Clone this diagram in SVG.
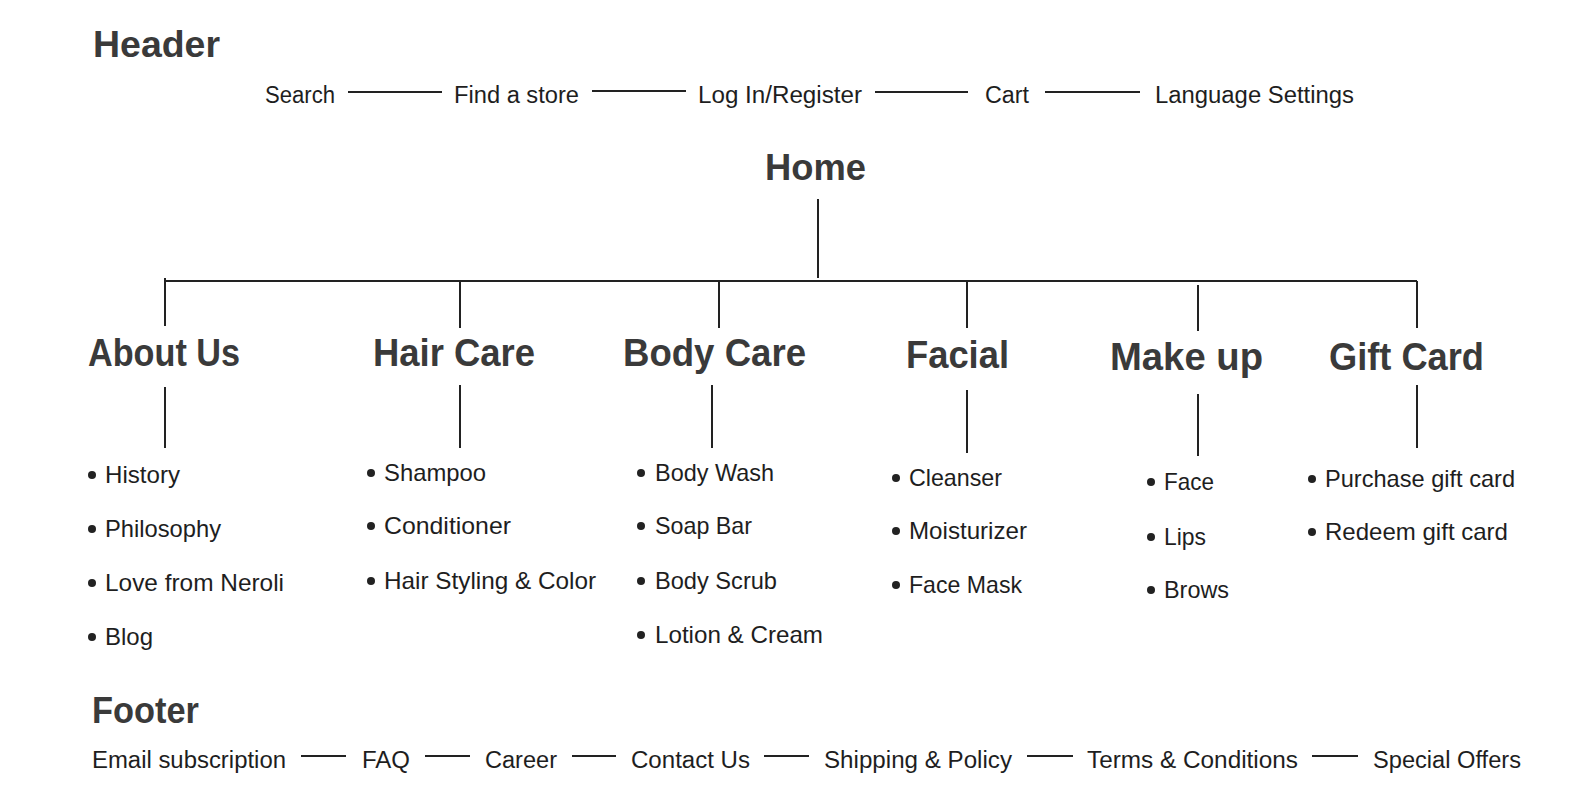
<svg xmlns="http://www.w3.org/2000/svg" width="1584" height="807" viewBox="0 0 1584 807">
<style>
.bg{fill:#ffffff}
.ttl{font-family:"Liberation Sans",Arial,sans-serif;font-weight:bold;font-size:36px;fill:#3a3a3a}
.sec{font-family:"Liberation Sans",Arial,sans-serif;font-weight:bold;font-size:38px;fill:#3a3a3a}
.txt{font-family:"Liberation Sans",Arial,sans-serif;font-size:23px;fill:#1e1e1e}
.item{font-family:"Liberation Sans",Arial,sans-serif;font-size:24px;fill:#1e1e1e}
.ln{stroke:#222;stroke-width:2;fill:none}
.dot{fill:#222}
</style>
<rect class="bg" x="0" y="0" width="1584" height="807"/>

<g id="connectors">
  <line class="ln" x1="348" y1="92" x2="442" y2="92"/>
  <line class="ln" x1="592" y1="91" x2="686" y2="91"/>
  <line class="ln" x1="875" y1="92" x2="968" y2="92"/>
  <line class="ln" x1="1045" y1="92" x2="1140" y2="92"/>
  <line class="ln" x1="818" y1="199" x2="818" y2="278"/>
  <line class="ln" x1="165" y1="281" x2="1417" y2="281"/>
  <line class="ln" x1="165" y1="278" x2="165" y2="326"/>
  <line class="ln" x1="460" y1="281" x2="460" y2="328"/>
  <line class="ln" x1="719" y1="281" x2="719" y2="328"/>
  <line class="ln" x1="967" y1="281" x2="967" y2="328"/>
  <line class="ln" x1="1198" y1="285" x2="1198" y2="331"/>
  <line class="ln" x1="1417" y1="281" x2="1417" y2="328"/>
  <line class="ln" x1="165" y1="387" x2="165" y2="448"/>
  <line class="ln" x1="460" y1="385" x2="460" y2="448"/>
  <line class="ln" x1="712" y1="385" x2="712" y2="448"/>
  <line class="ln" x1="967" y1="390" x2="967" y2="453"/>
  <line class="ln" x1="1198" y1="394" x2="1198" y2="456"/>
  <line class="ln" x1="1417" y1="385" x2="1417" y2="448"/>
  <line class="ln" x1="301" y1="756" x2="346" y2="756"/>
  <line class="ln" x1="425" y1="756" x2="470" y2="756"/>
  <line class="ln" x1="572" y1="756" x2="616" y2="756"/>
  <line class="ln" x1="764" y1="756" x2="809" y2="756"/>
  <line class="ln" x1="1027" y1="756" x2="1073" y2="756"/>
  <line class="ln" x1="1312" y1="756" x2="1358" y2="756"/>
</g>

<g id="header">
  <text class="ttl" x="93" y="57" textLength="127" lengthAdjust="spacingAndGlyphs">Header</text>
</g>
<g id="header-search"><text class="txt" x="265" y="103" textLength="70" lengthAdjust="spacingAndGlyphs">Search</text></g>
<g id="header-store"><text class="txt" x="454" y="103" textLength="125" lengthAdjust="spacingAndGlyphs">Find a store</text></g>
<g id="header-login"><text class="txt" x="698" y="103" textLength="164" lengthAdjust="spacingAndGlyphs">Log In/Register</text></g>
<g id="header-cart"><text class="txt" x="985" y="103" textLength="44" lengthAdjust="spacingAndGlyphs">Cart</text></g>
<g id="header-lang"><text class="txt" x="1155" y="103" textLength="199" lengthAdjust="spacingAndGlyphs">Language Settings</text></g>

<g id="home">
  <text class="ttl" x="765" y="180" textLength="101" lengthAdjust="spacingAndGlyphs">Home</text>
</g>

<g id="about-us">
  <text class="sec" x="88" y="366" textLength="152" lengthAdjust="spacingAndGlyphs">About Us</text>
  <circle class="dot" cx="92" cy="475" r="4"/><text class="item" x="105" y="483" textLength="75" lengthAdjust="spacingAndGlyphs">History</text>
  <circle class="dot" cx="92" cy="529" r="4"/><text class="item" x="105" y="537" textLength="116" lengthAdjust="spacingAndGlyphs">Philosophy</text>
  <circle class="dot" cx="92" cy="583" r="4"/><text class="item" x="105" y="591" textLength="179" lengthAdjust="spacingAndGlyphs">Love from Neroli</text>
  <circle class="dot" cx="92" cy="637" r="4"/><text class="item" x="105" y="645" textLength="48" lengthAdjust="spacingAndGlyphs">Blog</text>
</g>

<g id="hair-care">
  <text class="sec" x="373" y="366" textLength="162" lengthAdjust="spacingAndGlyphs">Hair Care</text>
  <circle class="dot" cx="371" cy="473" r="4"/><text class="item" x="384" y="481" textLength="102" lengthAdjust="spacingAndGlyphs">Shampoo</text>
  <circle class="dot" cx="371" cy="526" r="4"/><text class="item" x="384" y="534" textLength="127" lengthAdjust="spacingAndGlyphs">Conditioner</text>
  <circle class="dot" cx="371" cy="581" r="4"/><text class="item" x="384" y="589" textLength="212" lengthAdjust="spacingAndGlyphs">Hair Styling &amp; Color</text>
</g>

<g id="body-care">
  <text class="sec" x="623" y="366" textLength="183" lengthAdjust="spacingAndGlyphs">Body Care</text>
  <circle class="dot" cx="641" cy="473" r="4"/><text class="item" x="655" y="481" textLength="119" lengthAdjust="spacingAndGlyphs">Body Wash</text>
  <circle class="dot" cx="641" cy="526" r="4"/><text class="item" x="655" y="534" textLength="97" lengthAdjust="spacingAndGlyphs">Soap Bar</text>
  <circle class="dot" cx="641" cy="581" r="4"/><text class="item" x="655" y="589" textLength="122" lengthAdjust="spacingAndGlyphs">Body Scrub</text>
  <circle class="dot" cx="641" cy="635" r="4"/><text class="item" x="655" y="643" textLength="168" lengthAdjust="spacingAndGlyphs">Lotion &amp; Cream</text>
</g>

<g id="facial">
  <text class="sec" x="906" y="368" textLength="103" lengthAdjust="spacingAndGlyphs">Facial</text>
  <circle class="dot" cx="896" cy="478" r="4"/><text class="item" x="909" y="486" textLength="93" lengthAdjust="spacingAndGlyphs">Cleanser</text>
  <circle class="dot" cx="896" cy="531" r="4"/><text class="item" x="909" y="539" textLength="118" lengthAdjust="spacingAndGlyphs">Moisturizer</text>
  <circle class="dot" cx="896" cy="585" r="4"/><text class="item" x="909" y="593" textLength="113" lengthAdjust="spacingAndGlyphs">Face Mask</text>
</g>

<g id="make-up">
  <text class="sec" x="1110" y="370" textLength="153" lengthAdjust="spacingAndGlyphs">Make up</text>
  <circle class="dot" cx="1151" cy="482" r="4"/><text class="item" x="1164" y="490" textLength="50" lengthAdjust="spacingAndGlyphs">Face</text>
  <circle class="dot" cx="1151" cy="537" r="4"/><text class="item" x="1164" y="545" textLength="42" lengthAdjust="spacingAndGlyphs">Lips</text>
  <circle class="dot" cx="1151" cy="590" r="4"/><text class="item" x="1164" y="598" textLength="65" lengthAdjust="spacingAndGlyphs">Brows</text>
</g>

<g id="gift-card">
  <text class="sec" x="1329" y="370" textLength="155" lengthAdjust="spacingAndGlyphs">Gift Card</text>
  <circle class="dot" cx="1312" cy="479" r="4"/><text class="item" x="1325" y="487" textLength="190" lengthAdjust="spacingAndGlyphs">Purchase gift card</text>
  <circle class="dot" cx="1312" cy="532" r="4"/><text class="item" x="1325" y="540" textLength="183" lengthAdjust="spacingAndGlyphs">Redeem gift card</text>
</g>

<g id="footer">
  <text class="ttl" x="92" y="723" textLength="107" lengthAdjust="spacingAndGlyphs">Footer</text>
</g>
<g id="footer-email"><text class="txt" x="92" y="768" textLength="194" lengthAdjust="spacingAndGlyphs">Email subscription</text></g>
<g id="footer-faq"><text class="txt" x="362" y="768" textLength="48" lengthAdjust="spacingAndGlyphs">FAQ</text></g>
<g id="footer-career"><text class="txt" x="485" y="768" textLength="72" lengthAdjust="spacingAndGlyphs">Career</text></g>
<g id="footer-contact"><text class="txt" x="631" y="768" textLength="119" lengthAdjust="spacingAndGlyphs">Contact Us</text></g>
<g id="footer-shipping"><text class="txt" x="824" y="768" textLength="188" lengthAdjust="spacingAndGlyphs">Shipping &amp; Policy</text></g>
<g id="footer-terms"><text class="txt" x="1087" y="768" textLength="211" lengthAdjust="spacingAndGlyphs">Terms &amp; Conditions</text></g>
<g id="footer-offers"><text class="txt" x="1373" y="768" textLength="148" lengthAdjust="spacingAndGlyphs">Special Offers</text></g>
</svg>
